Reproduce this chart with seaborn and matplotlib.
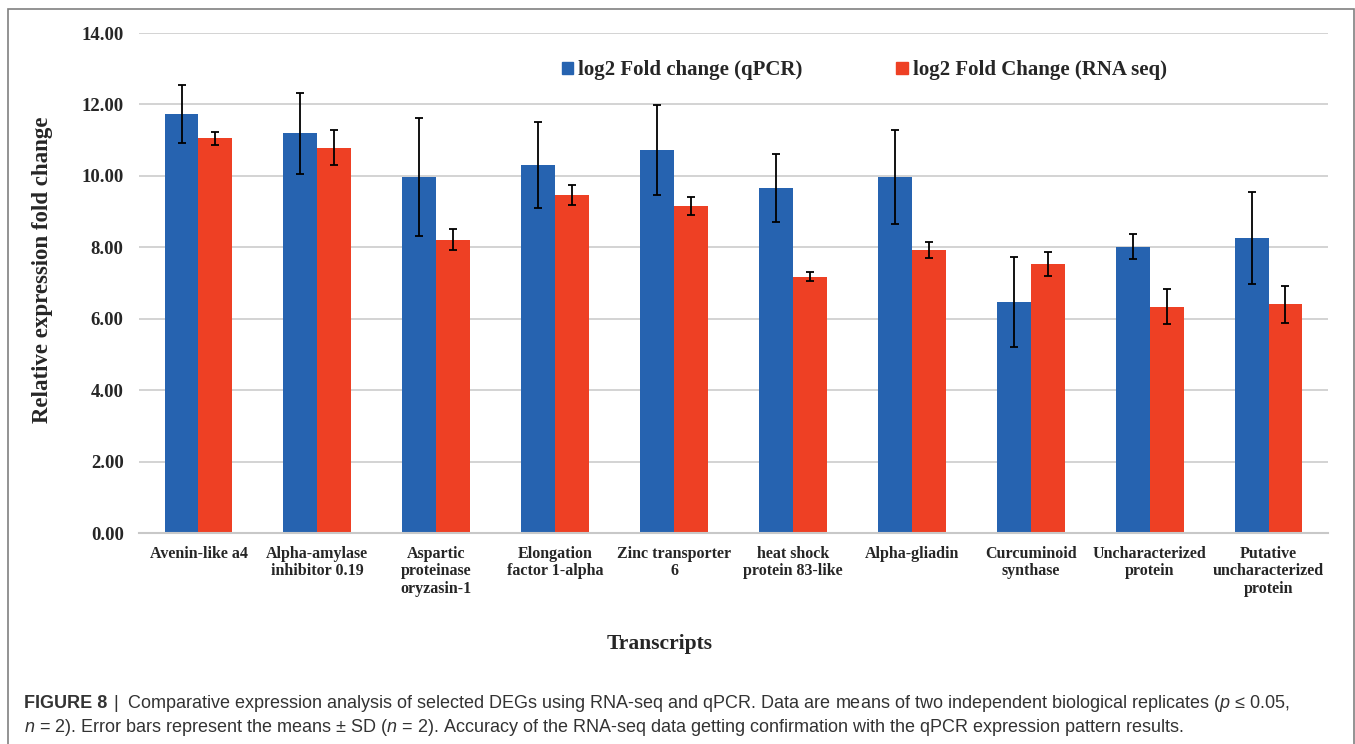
import pandas as pd
import matplotlib.pyplot as plt
import matplotlib.patches as mpatches
import seaborn as sns

# Data
transcripts = [
    "Avenin-like a4",
    "Alpha-amylase\ninhibitor 0.19",
    "Aspartic\nproteinase\noryzasin-1",
    "Elongation\nfactor 1-alpha",
    "Zinc transporter\n6",
    "heat shock\nprotein 83-like",
    "Alpha-gliadin",
    "Curcuminoid\nsynthase",
    "Uncharacterized\nprotein",
    "Putative\nuncharacterized\nprotein",
]
qpcr = [11.73, 11.19, 9.96, 10.30, 10.72, 9.67, 9.96, 6.47, 8.02, 8.27]
qpcr_sd = [0.82, 1.13, 1.65, 1.20, 1.27, 0.95, 1.31, 1.27, 0.36, 1.29]
rnaseq = [11.05, 10.79, 8.21, 9.47, 9.15, 7.18, 7.92, 7.53, 6.34, 6.40]
rnaseq_sd = [0.18, 0.49, 0.30, 0.28, 0.25, 0.13, 0.23, 0.33, 0.48, 0.53]
series = ["log2 Fold change (qPCR)", "log2 Fold Change (RNA seq)"]

df = pd.DataFrame({
    "transcript": transcripts * 2,
    "value": qpcr + rnaseq,
    "series": [series[0]] * len(transcripts) + [series[1]] * len(transcripts),
})

blue = "#2663B0"
red = "#EE4024"

sns.set_style("white")
plt.rcParams["font.family"] = ["Liberation Serif", "DejaVu Serif"]
plt.rcParams["mathtext.fontset"] = "custom"
plt.rcParams["mathtext.it"] = "Liberation Sans:italic"
plt.rcParams["mathtext.rm"] = "Liberation Sans"

W, H = 1355, 744
fig = plt.figure(figsize=(W / 100, H / 100), dpi=100)
ax = fig.add_axes([139 / W, 1 - 533 / H, (1328 - 139) / W, 500 / H])

sns.barplot(data=df, x="transcript", y="value", hue="series", order=transcripts,
            hue_order=series, palette=[blue, red], width=0.57, saturation=1,
            errorbar=None, linewidth=0, ax=ax)

# error bars centred on the bars seaborn drew
for cont, sd in zip(ax.containers, [qpcr_sd, rnaseq_sd]):
    xs = [b.get_x() + b.get_width() / 2 for b in cont]
    ys = [b.get_height() for b in cont]
    ax.errorbar(xs, ys, yerr=sd, fmt="none", ecolor="black", elinewidth=1.3,
                capsize=2.8, capthick=1.3, zorder=5)

ax.set_xlim(-0.5, len(transcripts) - 0.5)
ax.set_ylim(0, 14)
ax.set_yticks(range(0, 15, 2))
ax.set_yticklabels([f"{v:.2f}" for v in range(0, 15, 2)])
ax.yaxis.grid(True, color="#D0D0D0", lw=1.3)
ax.set_axisbelow(True)
for s in ["top", "right", "left"]:
    ax.spines[s].set_visible(False)
ax.spines["bottom"].set_color("#C8C8C8")
ax.spines["bottom"].set_linewidth(1.5)
ax.tick_params(axis="both", length=0)
ax.tick_params(axis="y", pad=11)
ax.tick_params(axis="x", pad=9)
for t in ax.get_yticklabels():
    t.set_fontsize(13.5)
    t.set_fontweight("bold")
for t in ax.get_xticklabels():
    t.set_fontsize(11.5)
    t.set_fontweight("bold")
    t.set_linespacing(1.15)

ax.set_xlabel("")
ax.set_ylabel("")
fig.text(43 / W, 1 - 270 / H, "Relative expression fold change", rotation=90,
         ha="center", va="center", fontsize=16.5, fontweight="bold")
fig.text(660 / W, 1 - 644 / H, "Transcripts", ha="center", va="center",
         fontsize=15.5, fontweight="bold")

handles = [mpatches.Patch(color=blue), mpatches.Patch(color=red)]
ax.legend(handles, series, loc="center", bbox_to_anchor=(0.61, 0.925), ncol=2,
          frameon=False, handlelength=0.55, handleheight=0.55, handletextpad=0.25,
          columnspacing=4.5, prop={"weight": "bold", "size": 15})

# figure border
fig.patches.append(mpatches.Rectangle((8 / W, -0.1), (1354 - 8) / W, 1 - 9 / H + 0.1,
                                      transform=fig.transFigure, fill=False,
                                      edgecolor="#808080", lw=1.2))

# caption
cap_font = ["Liberation Sans Narrow", "Liberation Sans", "DejaVu Sans"]
t1 = fig.text(24 / W, 1 - 703 / H, "FIGURE 8", fontsize=13, fontweight="bold",
              family=cap_font, color="#333333", va="center")
fig.canvas.draw()
x1 = t1.get_window_extent().x1
fig.text((x1 + 6) / W, 1 - 703 / H, "|  Comparative expression analysis of selected DEGs using RNA-seq and qPCR. "
         "Data are means of two independent biological replicates ($\\it{p}$ \u2264 0.05,",
         fontsize=13, family=cap_font, color="#333333", va="center")
fig.text(24 / W, 1 - 728 / H, "$\\it{n}$ = 2). Error bars represent the means \u00b1 SD ($\\it{n}$ = 2). "
         "Accuracy of the RNA-seq data getting confirmation with the qPCR expression pattern results.",
         fontsize=13, family=cap_font, color="#333333", va="center")

fig.savefig("out.png", dpi=100)
